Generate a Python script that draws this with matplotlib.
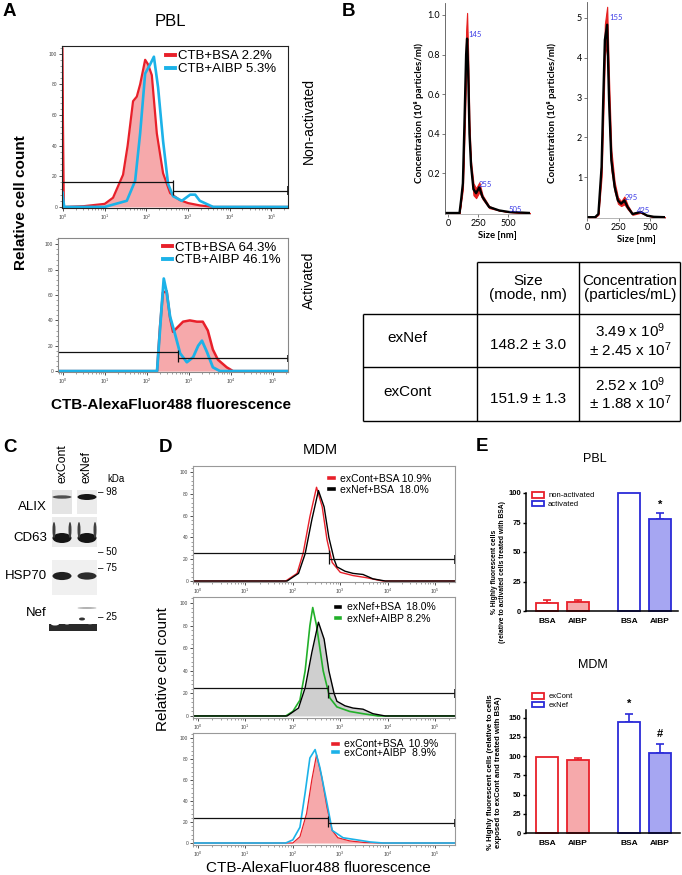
import numpy as np
import matplotlib
matplotlib.use("Agg")
import matplotlib.pyplot as plt
from matplotlib.lines import Line2D
from matplotlib.patches import Ellipse, Rectangle, Patch
from matplotlib.ticker import LogLocator, NullFormatter, MultipleLocator

W, H = 682, 875
plt.rcParams['font.family'] = ['Liberation Sans', 'DejaVu Sans']
plt.rcParams['mathtext.fontset'] = 'custom'
plt.rcParams['mathtext.rm'] = 'Liberation Sans'
plt.rcParams['mathtext.it'] = 'Liberation Sans:italic'
plt.rcParams['mathtext.bf'] = 'Liberation Sans:bold'

RED = '#e8202a'
PINK = '#f6a9ab'
CYAN = '#1cb2e8'
GREEN = '#22b02a'
BLUE = '#2b2bd8'
LBLUE = '#a6a6f2'
NTA_BLUE = '#3a3ae6'

# ---- A: PBL flow histograms (x = log10 fluorescence, y = % of max) ----
a1_bsa_x = [-0.03, -0.02, 0.02, 0.5, 1.0, 1.2, 1.44, 1.55, 1.68, 1.77, 1.85, 1.97, 2.04, 2.13, 2.25, 2.4, 2.57, 2.8, 3.0, 3.28, 3.6, 5.4]
a1_bsa_y = [0, 104, 0, 0.5, 2, 6, 21, 40, 69, 72, 80, 96, 93, 86, 48, 22, 9, 4.5, 2.5, 1, 0, 0]
a1_aibp_x = [-0.03, -0.02, 0.03, 1.0, 1.53, 1.73, 1.85, 1.97, 2.09, 2.18, 2.28, 2.4, 2.52, 2.64, 2.85, 3.05, 3.17, 3.28, 3.6, 5.4]
a1_aibp_y = [0, 10, 0, 0, 4, 17, 48, 87, 93, 98, 78, 43, 15, 7, 4, 8, 8, 4, 0, 0]
a2_bsa_x = [-0.2, 2.24, 2.31, 2.38, 2.47, 2.55, 2.62, 2.74, 2.86, 3.02, 3.19, 3.33, 3.45, 3.57, 3.69, 3.9, 4.05, 5.4]
a2_bsa_y = [0, 0, 35, 62, 63, 42, 31, 35, 39, 40, 39, 39, 32, 17, 9, 3, 0, 0]
a2_aibp_x = [-0.2, 2.24, 2.35, 2.4, 2.47, 2.55, 2.67, 2.79, 2.95, 3.1, 3.22, 3.31, 3.43, 3.57, 3.74, 5.4]
a2_aibp_y = [0, 0, 51, 73, 62, 43, 29, 14, 7, 11, 20, 24, 15, 3, 0, 0]
a_labels_top = ['CTB+BSA 2.2%', 'CTB+AIBP 5.3%']
a_labels_bot = ['CTB+BSA 64.3%', 'CTB+AIBP 46.1%']
a_gates = [(2.64, 16, 10.5), (2.74, 15, 10)]

# ---- B: NTA size distributions ----
nta1_size = [-25, 60, 96, 110, 124, 137, 151, 159, 168, 179, 192, 212, 234, 261, 288, 343, 426, 508, 683]
nta1_conc = [0, 0, 0.0, 0.07, 0.15, 0.45, 0.8, 0.88, 0.72, 0.4, 0.24, 0.12, 0.1, 0.13, 0.08, 0.03, 0.013, 0.005, 0]
nta1_err = [0, 0, 0, 0.01, 0.03, 0.07, 0.12, 0.13, 0.08, 0.04, 0.02, 0.03, 0.025, 0.025, 0.01, 0.005, 0, 0, 0]
nta2_size = [10, 64, 90, 115, 128, 141, 159, 174, 192, 218, 244, 269, 295, 321, 359, 423, 474, 526, 615]
nta2_conc = [0, 0, 0.08, 1.26, 2.94, 4.45, 4.83, 2.94, 1.43, 0.76, 0.42, 0.34, 0.42, 0.25, 0.08, 0.13, 0.04, 0.01, 0]
nta2_err = [0, 0, 0.02, 0.25, 0.45, 0.4, 0.45, 0.5, 0.25, 0.12, 0.08, 0.06, 0.1, 0.05, 0.02, 0.02, 0, 0, 0]
nta1_peaks = [('145', 166, 0.9), ('255', 258, 0.146), ('505', 508, 0.02)]
nta2_peaks = [('155', 177, 5.0), ('295', 300, 0.5), ('425', 392, 0.18)]
tab_rows = ['exNef', 'exCont']
tab_size = ['148.2 ± 3.0', '151.9 ± 1.3']
tab_conc = ['3.49 x 10$^{9}$\n± 2.45 x 10$^{7}$', '2.52 x 10$^{9}$\n± 1.88 x 10$^{7}$']

# ---- C: western blot ----
blot_lanes = ['exCont', 'exNef']
blot_rows = ['ALIX', 'CD63', 'HSP70', 'Nef']
blot_strength = {'ALIX': [0.75, 1.0], 'CD63': [1.0, 1.0], 'HSP70': [0.95, 0.9], 'Nef': [0.0, 0.6]}
kda_marks = [('98', 492), ('50', 552), ('75', 568), ('25', 617)]

# ---- D: MDM flow histograms ----
d_red_x = [-0.2, 1.85, 2.09, 2.22, 2.36, 2.5, 2.62, 2.72, 2.83, 3.0, 3.27, 3.56, 3.78, 3.9, 5.5]
d_red_y = [0, 0, 7, 26, 59, 86, 68, 38, 17, 8, 5, 3, 1, 0, 0]
d_blk_x = [-0.2, 1.88, 2.12, 2.26, 2.4, 2.54, 2.66, 2.76, 2.87, 2.93, 3.1, 3.27, 3.48, 3.69, 3.95, 5.5]
d_blk_y = [0, 0, 7, 25, 56, 83, 68, 40, 20, 13, 9, 7, 6, 2, 0, 0]
d_grn_x = [-0.2, 1.85, 2.0, 2.15, 2.26, 2.36, 2.42, 2.5, 2.64, 2.78, 2.93, 3.2, 3.48, 3.8, 5.5]
d_grn_y = [0, 0, 4, 14, 40, 80, 96, 80, 40, 16, 8, 4, 2, 0, 0]
d_red2_x = [-0.2, 2.0, 2.15, 2.29, 2.4, 2.5, 2.61, 2.72, 2.83, 2.95, 3.2, 3.5, 3.8, 5.5]
d_red2_y = [0, 0, 6, 28, 60, 84, 63, 34, 12, 5, 2, 0.5, 0, 0]
d_cyan_x = [-0.2, 1.85, 2.0, 2.15, 2.26, 2.36, 2.47, 2.57, 2.72, 2.83, 3.06, 3.35, 3.63, 3.9, 5.5]
d_cyan_y = [0, 0, 3, 15, 48, 81, 89, 72, 38, 12, 5, 3, 1, 0, 0]
d_labels = [['exCont+BSA 10.9%', 'exNef+BSA  18.0%'],
            ['exNef+BSA  18.0%', 'exNef+AIBP 8.2%'],
            ['exCont+BSA  10.9%', 'exCont+AIBP  8.9%']]
d_gates = [(2.76, 26, 20), (2.74, 25, 20), (2.74, 24, 19)]

# ---- E: bar charts ----
e_ticks = ['BSA', 'AIBP', 'BSA', 'AIBP']
e_pbl_groups = ['non-activated', 'activated']
e_pbl_vals = [7, 7.5, 100, 78]
e_pbl_err = [2.3, 1.8, 0, 5]
e_mdm_groups = ['exCont', 'exNef']
e_mdm_vals = [99.5, 95, 145, 103.5]
e_mdm_err = [0, 3, 9.5, 12.5]

fig = plt.figure(figsize=(W / 100, H / 100), dpi=100)


def px_axes(x0, y0, x1, y1):
    return fig.add_axes([x0 / W, 1 - y1 / H, (x1 - x0) / W, (y1 - y0) / H])


def px_text(x, y, s, **kw):
    return fig.text(x / W, 1 - y / H, s, **kw)


def flow_axes(box, lo, hi, spine_color, ylo=-0.7, yhi=105):
    ax = px_axes(*box)
    ax.set_xscale('log')
    ax.set_xlim(10 ** lo, 10 ** hi)
    ax.set_ylim(ylo, yhi)
    ax.set_xticks([10 ** k for k in range(6)])
    ax.set_xticklabels([rf'$10^{{{k}}}$' for k in range(6)], fontsize=3.8, color='#444')
    ax.xaxis.set_minor_locator(LogLocator(base=10, subs=np.arange(2, 10) * 1.0, numticks=20))
    ax.xaxis.set_minor_formatter(NullFormatter())
    ax.set_yticks([0, 20, 40, 60, 80, 100])
    ax.set_yticklabels(['0', '20', '40', '60', '80', '100'], fontsize=3.5, color='#444')
    ax.yaxis.set_minor_locator(MultipleLocator(4))
    ax.tick_params(which='major', length=2.2, width=0.6, pad=1.2, colors='#333', labelcolor='#444')
    ax.tick_params(which='minor', length=1.2, width=0.4, colors='#555')
    for s in ax.spines.values():
        s.set_color(spine_color)
        s.set_linewidth(0.8)
    return ax


def gate(ax, lo, hi, g, h1, h2, cap):
    ax.hlines(h1, 10 ** lo, 10 ** g, color='#111', lw=0.9)
    ax.hlines(h2, 10 ** g, 10 ** hi, color='#111', lw=0.9)
    ax.vlines(10 ** g, min(h1, h2) - cap, max(h1, h2) + cap * 0.5, color='#111', lw=0.9)
    ax.vlines(10 ** hi, h2 - cap, h2 + cap, color='#111', lw=1.2, clip_on=False)


# ================= Panel A =================
px_text(3, 3, 'A', fontsize=13.5, fontweight='bold', va='top')
px_text(170, 21, 'PBL', fontsize=12, ha='center', va='center')

ax = flow_axes((62, 46, 288, 208), -0.024, 5.396, '#222')
ax.fill_between(10 ** np.array(a1_bsa_x), a1_bsa_y, color=PINK, lw=0)
ax.plot(10 ** np.array(a1_bsa_x), a1_bsa_y, color=RED, lw=1.6, label=a_labels_top[0])
ax.plot(10 ** np.array(a1_aibp_x), a1_aibp_y, color=CYAN, lw=1.9, label=a_labels_top[1])
gate(ax, -0.024, 5.396, *a_gates[0], 3)
ax.legend(loc='upper left', bbox_to_anchor=(0.46, 0.975), frameon=False, fontsize=9.5,
          handlelength=0.7, handletextpad=0.2, labelspacing=0.05, borderpad=0, borderaxespad=0)
for l in ax.get_legend().get_lines():
    l.set_linewidth(2.8)

ax = flow_axes((58, 238, 288, 372), -0.12, 5.36, '#888')
ax.fill_between(10 ** np.array(a2_bsa_x), a2_bsa_y, color=PINK, lw=0)
ax.plot(10 ** np.array(a2_bsa_x), a2_bsa_y, color=RED, lw=1.8, label=a_labels_bot[0])
ax.plot(10 ** np.array(a2_aibp_x), a2_aibp_y, color=CYAN, lw=2.0, label=a_labels_bot[1])
gate(ax, -0.12, 5.36, *a_gates[1], 3)
ax.legend(loc='upper left', bbox_to_anchor=(0.455, 0.975), frameon=False, fontsize=9.5,
          handlelength=0.7, handletextpad=0.2, labelspacing=0.05, borderpad=0, borderaxespad=0)
for l in ax.get_legend().get_lines():
    l.set_linewidth(2.8)

px_text(21, 203, 'Relative cell count', fontsize=11, fontweight='bold', rotation=90,
        ha='center', va='center')
px_text(171, 405, 'CTB-AlexaFluor488 fluorescence', fontsize=11, fontweight='bold',
        ha='center', va='center')
px_text(309, 121, 'Non-activated', fontsize=10, rotation=90, ha='center', va='center')
px_text(309, 280, 'Activated', fontsize=10, rotation=90, ha='center', va='center')

# ================= Panel B =================
px_text(342, 3, 'B', fontsize=13.5, fontweight='bold', va='top')
nta_font = ['Lato', 'DejaVu Sans']


def nta_axes(box, size, conc, err, xlim, ylim, yticks, ylabels, peaks, xlab_y, ylab_x):
    ax = px_axes(*box)
    size = np.array(size)
    conc = np.array(conc)
    err = np.array(err)
    ax.fill_between(size, conc - err, conc + err, color='#e52020', lw=0.8, edgecolor='#e52020')
    ax.plot(size, conc, color='black', lw=1.7)
    ax.set_xlim(*xlim)
    ax.set_ylim(*ylim)
    ax.set_xticks([0, 250, 500])
    ax.set_xticklabels(['0', '250', '500'], fontsize=6.5, family=nta_font)
    ax.set_yticks(yticks)
    ax.set_yticklabels(ylabels, fontsize=6.5, family=nta_font)
    ax.tick_params(length=2, width=0.5, pad=1.5, colors='#444', labelcolor='black')
    for s in ['top', 'right']:
        ax.spines[s].set_visible(False)
    ax.spines['left'].set_color('#555')
    ax.spines['bottom'].set_color('#999')
    ax.spines['left'].set_linewidth(0.6)
    ax.spines['bottom'].set_linewidth(0.5)
    ax.patch.set_alpha(0)
    for txt, xv, yv in peaks:
        ax.text(xv, yv, txt, color=NTA_BLUE, fontsize=5.5, family=nta_font, va='center')
    cx = (box[0] + box[2]) / 2
    px_text(cx + 10, xlab_y, 'Size [nm]', fontsize=6.8, fontweight='bold', family=nta_font,
            ha='center', va='center')
    px_text(ylab_x, 113, 'Concentration (10⁸ particles/ml)', fontsize=7, fontweight='bold',
            family=nta_font, rotation=90, ha='center', va='center')
    return ax


nta_axes((445, 3, 530, 214), nta1_size, nta1_conc, nta1_err, (-25, 683), (-0.005, 1.06),
         [0.2, 0.4, 0.6, 0.8, 1.0], ['0.2', '0.4', '0.6', '0.8', '1.0'], nta1_peaks, 235, 419)
nta_axes((587, 2, 665, 218), nta2_size, nta2_conc, nta2_err, (10, 615), (-0.02, 5.4),
         [1, 2, 3, 4, 5], ['1', '2', '3', '4', '5'], nta2_peaks, 240, 552)

# table
tax = px_axes(360, 258, 682, 424)
tax.set_xlim(360, 682)
tax.set_ylim(424, 258)
tax.axis('off')
lw = 1.0
tax.hlines(262, 477, 680, color='black', lw=lw)
for yv in [314, 367, 421]:
    tax.hlines(yv, 363, 680, color='black', lw=lw)
tax.vlines(363, 314, 421, color='black', lw=lw)
for xv in [477, 579, 680]:
    tax.vlines(xv, 262, 421, color='black', lw=lw)
tax.text(528, 288, 'Size\n(mode, nm)', fontsize=11, ha='center', va='center', linespacing=1.05)
tax.text(630, 288, 'Concentration\n(particles/mL)', fontsize=11, ha='center', va='center',
         linespacing=1.05)
for i, name in enumerate(tab_rows):
    yc = 340 + i * 53.5
    tax.text(407, yc - 2, name, fontsize=11, ha='center', va='center')
    tax.text(528, yc + 5, tab_size[i], fontsize=11, ha='center', va='center')
    tax.text(630, yc, tab_conc[i], fontsize=11, ha='center', va='center', linespacing=1.0)

# ================= Panel C =================
px_text(3, 439, 'C', fontsize=13.5, fontweight='bold', va='top')
bax = px_axes(40, 470, 130, 640)
bax.set_xlim(40, 130)
bax.set_ylim(640, 470)
bax.axis('off')
lane_x = [62, 87]
for i, lane in enumerate(blot_lanes):
    px_text(lane_x[i], 483, lane, fontsize=8.8, rotation=90, ha='center', va='bottom')
px_text(107, 479, 'kDa', fontsize=7, ha='left', va='center')

bax.add_patch(Rectangle((52, 490), 20, 24, color='#e4e4e4', lw=0))
bax.add_patch(Rectangle((77, 490), 20, 24, color='#ebebeb', lw=0))
bax.add_patch(Rectangle((52, 517), 45, 30, color='#ebebeb', lw=0))
bax.add_patch(Rectangle((52, 560), 45, 35, color='#f0f0f0', lw=0))
row_y = {'ALIX': 497, 'CD63': 538, 'HSP70': 576, 'Nef': 608}
row_h = {'ALIX': 6, 'CD63': 10, 'HSP70': 9, 'Nef': 3}
for r in blot_rows:
    for i, s in enumerate(blot_strength[r]):
        if s <= 0:
            continue
        g = 1 - 0.92 * s
        h = row_h[r] * (s ** 2)
        bax.add_patch(Ellipse((lane_x[i], row_y[r]), 19, h, color=(g, g, g), lw=0))
        if r == 'CD63':
            for dx in (-8, 8):
                bax.add_patch(Ellipse((lane_x[i] + dx, row_y[r] - 8), 3, 16,
                                      color=(0.25, 0.25, 0.25), lw=0))
# Nef smear at bottom
bax.add_patch(Rectangle((49, 624), 48, 7, color='#2a2a2a', lw=0))
for cx, cy, w, h in [(55, 624, 8, 3), (67, 623, 6, 3), (80, 622, 5, 4), (90, 623, 7, 2.5)]:
    bax.add_patch(Ellipse((cx, cy), w, h, color='white', lw=0))
bax.add_patch(Ellipse((82, 619), 6, 3, color='#333', lw=0))
for r in blot_rows:
    px_text(47, row_y[r] + (10 if r == 'ALIX' else 0) - (0 if r != 'Nef' else -5), r,
            fontsize=9.5, ha='right', va='center')
for lab, yv in kda_marks:
    px_text(98, yv, '– ' + lab, fontsize=7, ha='left', va='center')

# ================= Panel D =================
px_text(159, 439, 'D', fontsize=13.5, fontweight='bold', va='top')
px_text(320, 450, 'MDM', fontsize=10.5, ha='center', va='center')
d_boxes = [(193, 466, 455, 582), (193, 597, 455, 718), (193, 733, 455, 845)]
d_ylims = [(-0.9, 105.5), (-1.8, 105.3), (-1.9, 104.8)]
d_anchor = [(0.52, 0.935), (0.545, 0.955), (0.535, 0.945)]
d_spacing = [0.15, 0.15, -0.15]
dlo, dhi = -0.105, 5.42
for k, box in enumerate(d_boxes):
    ax = flow_axes(box, dlo, dhi, '#999', *d_ylims[k])
    if k == 0:
        ax.plot(10 ** np.array(d_red_x), d_red_y, color=RED, lw=1.0)
        ax.plot(10 ** np.array(d_blk_x), d_blk_y, color='black', lw=1.0)
        cols = [RED, 'black']
    elif k == 1:
        ax.fill_between(10 ** np.array(d_blk_x), d_blk_y, color='#cfcfcf', lw=0)
        ax.plot(10 ** np.array(d_grn_x), d_grn_y, color=GREEN, lw=1.2)
        ax.plot(10 ** np.array(d_blk_x), d_blk_y, color='black', lw=1.0)
        cols = ['black', GREEN]
    else:
        ax.fill_between(10 ** np.array(d_red2_x), d_red2_y, color=PINK, lw=0)
        ax.plot(10 ** np.array(d_red2_x), d_red2_y, color=RED, lw=0.9)
        ax.plot(10 ** np.array(d_cyan_x), d_cyan_y, color=CYAN, lw=1.2)
        cols = [RED, CYAN]
    gate(ax, dlo, dhi, *d_gates[k], 4)
    handles = [Line2D([], [], color=c, lw=2.6) for c in cols]
    ax.legend(handles, d_labels[k], loc='upper left', bbox_to_anchor=d_anchor[k], frameon=False,
              fontsize=7.5, handlelength=0.45, handletextpad=0.6, labelspacing=d_spacing[k],
              borderpad=0, borderaxespad=0)
px_text(163, 669, 'Relative cell count', fontsize=11, rotation=90, ha='center', va='center')
px_text(318, 868, 'CTB-AlexaFluor488 fluorescence', fontsize=11, ha='center', va='center')

# ================= Panel E =================
px_text(476, 438, 'E', fontsize=13.5, fontweight='bold', va='top')


def bar_axes(box, ylim, yticks, vals, errs, groups, marks, legend_anchor):
    ax = px_axes(*box)
    n = len(vals)
    pos = np.array([i + (0.65 if i >= 2 else 0) for i in range(n)]) + 1
    faces = ['white', PINK, 'white', LBLUE]
    edges = [RED, RED, BLUE, BLUE]
    ax.bar(pos, vals, width=0.71, color=faces, edgecolor=edges, linewidth=1.3, clip_on=False,
           zorder=2)
    for p, v, e, c in zip(pos, vals, errs, edges):
        if e > 0:
            ax.errorbar(p, v, yerr=[[0], [e]], color=c, capsize=3, capthick=1.2, elinewidth=1.2,
                        zorder=1)
    for idx, s, yv in marks:
        ax.text(pos[idx], yv, s, fontsize=8, fontweight='bold', ha='center', va='center')
    ax.set_xlim(0.323, 0.323 + (box[2] - box[0]) / 31)
    ax.set_ylim(*ylim)
    ax.set_yticks(yticks)
    ax.set_yticklabels([str(t) for t in yticks], fontsize=5.5, fontweight='bold')
    ax.set_xticks(pos)
    ax.set_xticklabels(e_ticks, fontsize=6, fontweight='bold')
    ax.tick_params(length=2.5, width=1, pad=1.2)
    ax.tick_params(axis='x', length=0, pad=5)
    for s in ['top', 'right']:
        ax.spines[s].set_visible(False)
    for s in ['left', 'bottom']:
        ax.spines[s].set_linewidth(1.1)
    handles = [Patch(facecolor='white', edgecolor=RED, lw=1.3),
               Patch(facecolor='white', edgecolor=BLUE, lw=1.3)]
    ax.legend(handles, groups, loc='upper left', bbox_to_anchor=legend_anchor, frameon=False,
              fontsize=5.5, handlelength=1.6, handleheight=0.8, handletextpad=0.5,
              labelspacing=0.15, borderpad=0, borderaxespad=0)
    return ax


px_text(595, 459, 'PBL', fontsize=9, ha='center', va='center')
bar_axes((526, 493, 678, 611), (0, 100), [0, 25, 50, 75, 100], e_pbl_vals, e_pbl_err,
         e_pbl_groups, [(3, '*', 90)], (0.04, 1.01))
px_text(498, 572, '% Highly fluorescent cells\n(relative to activated cells treated with BSA)',
        fontsize=4.9, fontweight='bold', rotation=90, ha='center', va='center', linespacing=1.2)

px_text(593, 665, 'MDM', fontsize=9, ha='center', va='center')
bar_axes((526, 710, 680, 833), (0, 160), [0, 25, 50, 75, 100, 125, 150], e_mdm_vals, e_mdm_err,
         e_mdm_groups, [(2, '*', 168), (3, '#', 129)], (0.04, 1.14))
px_text(495, 772, '% Highly fluorescent cells (relative to cells\nexposed to exCont and treated with BSA)',
        fontsize=5.6, fontweight='bold', rotation=90, ha='center', va='center', linespacing=1.2)

fig.savefig('out.png', dpi=100)
